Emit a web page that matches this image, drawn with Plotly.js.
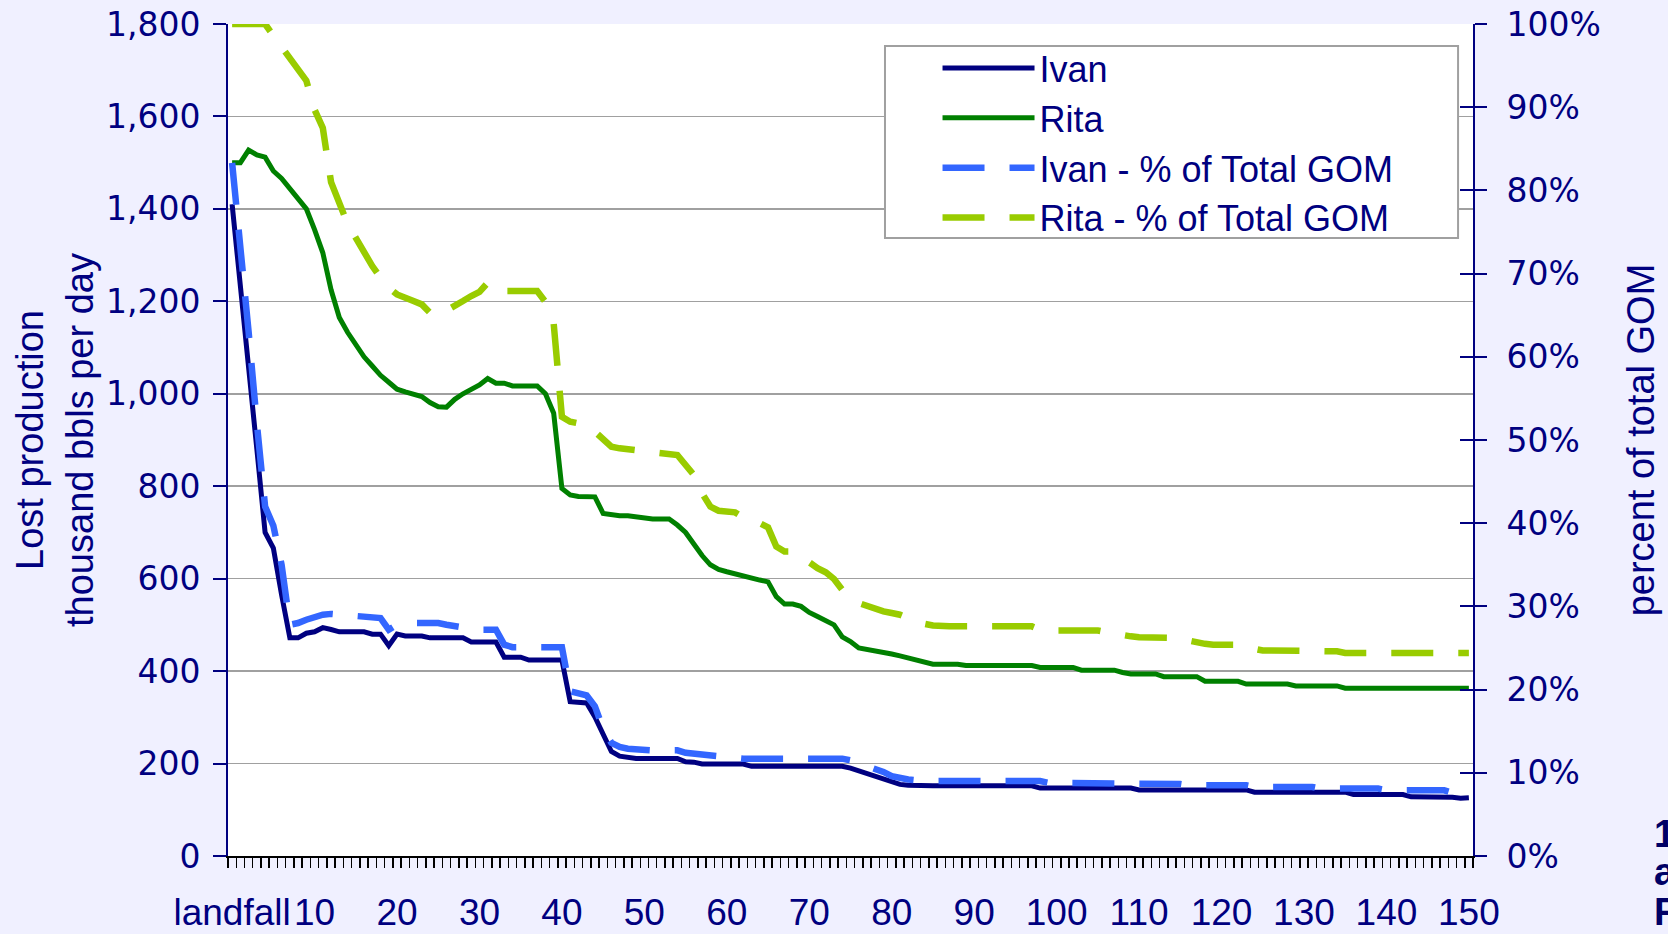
<!DOCTYPE html>
<html>
<head>
<meta charset="utf-8">
<script src="https://cdn.plot.ly/plotly-3.0.1.min.js"></script>
<style>
html, body { margin: 0; padding: 0; background: #F0F0FF; }
#chart { width: 1668px; height: 934px; }
</style>
</head>
<body>
<div id="chart"></div>
<script>
// Category positions: landfall (0) then days 1..150
const days = Array.from({length: 151}, (_, i) => i);
const tickPositions = [0, 10, 20, 30, 40, 50, 60, 70, 80, 90, 100, 110, 120, 130, 140, 150];
const tickLabels = ["landfall", "10", "20", "30", "40", "50", "60", "70", "80", "90", "100", "110", "120", "130", "140", "150"];

// Lost production, thousand bbls per day
const ivan = [
  1410, 1240, 1060, 880, 700, 666, 565, 472, 472, 482,
  485, 494, 490, 485, 485, 485, 485, 480, 480, 455,
  480, 476, 476, 476, 472, 472, 472, 472, 472, 463,
  463, 463, 463, 430, 430, 430, 424, 424, 424, 424,
  424, 334, 333, 331, 301, 262, 226, 216, 213, 211,
  211, 211, 211, 211, 211, 204, 203, 199, 199, 199,
  199, 199, 199, 194, 194, 194, 194, 194, 194, 194,
  194, 194, 194, 194, 194, 190, 184, 178, 172, 165,
  160, 155, 153, 152, 152, 152, 152, 152, 152, 152,
  152, 152, 152, 152, 152, 152, 152, 152, 147, 147,
  147, 147, 147, 147, 147, 147, 147, 147, 147, 147,
  143, 143, 143, 143, 143, 143, 143, 143, 143, 143,
  143, 143, 143, 143, 138, 138, 138, 138, 138, 138,
  138, 138, 138, 138, 138, 138, 133, 133, 133, 133,
  133, 133, 133, 128, 128, 128, 128, 128, 127, 125,
  126
];
const rita = [
  1500, 1500, 1527, 1517, 1512, 1482, 1466, 1443, 1420, 1400,
  1355, 1305, 1225, 1165, 1133, 1105, 1080, 1060, 1040, 1025,
  1010, 1004, 1000, 994, 981, 972, 971, 988, 1000, 1010,
  1019, 1033, 1023, 1023, 1017, 1017, 1017, 1017, 1000, 958,
  795, 781, 778, 777, 777, 741, 738, 736, 736, 733,
  731, 729, 729, 729, 716, 700, 675, 650, 630, 620,
  615, 610, 606, 602, 597, 593, 561, 545, 545, 540,
  527, 518, 508, 500, 474, 464, 450, 447, 445, 442,
  437, 433, 428, 424, 419, 415, 415, 415, 415, 412,
  412, 412, 412, 412, 412, 412, 412, 412, 408, 408,
  408, 408, 408, 402, 402, 402, 402, 402, 397, 394,
  394, 394, 394, 388, 388, 388, 388, 388, 378, 378,
  378, 378, 378, 372, 372, 372, 372, 372, 372, 368,
  368, 368, 368, 368, 368, 363, 363, 363, 363, 363,
  363, 363, 363, 363, 363, 363, 363, 363, 363, 363,
  363
];
// Percent of total GOM
const ivanPct = [
  83.3, 74, 63, 52, 42, 39.7, 35, 27.8, 28.0, 28.4,
  28.8, 29.0, 29.1, 29.0, 28.9, 28.8, 28.7, 28.6, 28.6, 27.2,
  27.8, 28.0, 28.0, 28.0, 28.0, 28.0, 27.8, 27.6, 27.4, 27.3,
  27.2, 27.2, 27.2, 25.4, 25.1, 25.1, 25.1, 25.1, 25.1, 25.1,
  25.1, 19.8, 19.5, 19.3, 18.0, 15.3, 13.6, 13.1, 12.9, 12.8,
  12.7, 12.7, 12.7, 12.7, 12.7, 12.4, 12.3, 12.1, 12.0, 11.9,
  11.9, 11.7, 11.7, 11.7, 11.7, 11.7, 11.7, 11.7, 11.7, 11.7,
  11.7, 11.7, 11.7, 11.7, 11.7, 11.5, 11.2, 10.9, 10.6, 10.1,
  9.6, 9.3, 9.2, 9.1, 9.0, 9.0, 9.0, 9.0, 9.0, 9.0,
  9.0, 9.0, 9.0, 9.0, 9.0, 9.0, 9.0, 9.0, 9.0, 8.8,
  8.8, 8.8, 8.8, 8.8, 8.8, 8.8, 8.8, 8.8, 8.8, 8.65,
  8.65, 8.65, 8.65, 8.65, 8.65, 8.65, 8.5, 8.5, 8.5, 8.5,
  8.5, 8.5, 8.5, 8.5, 8.3, 8.3, 8.3, 8.3, 8.3, 8.3,
  8.3, 8.3, 8.1, 8.1, 8.1, 8.1, 8.1, 8.1, 8.1, 8.1,
  7.9, 7.9, 7.9, 7.9, 7.9, 7.9, 7.9, 7.9, 7.6, 7.6,
  7.6
];
const ritaPct = [
  100, 100, 100, 100, 100, 98.6, 97.2, 95.9, 94.4, 93.2,
  89.7, 87.5, 81.0, 78.3, 76.0, 74.3, 72.5, 70.9, 69.5, 68.3,
  67.5, 67.0, 66.7, 66.3, 65.3, 65.0, 65.5, 66.0, 66.7, 67.3,
  67.8, 68.9, 68.0, 67.9, 67.9, 67.9, 67.9, 67.9, 66.6, 64.0,
  52.8, 52.2, 52.0, 51.8, 51.0, 50.2, 49.2, 49.0, 48.9, 48.8,
  48.6, 48.5, 48.4, 48.4, 48.2, 47.0, 45.8, 43.6, 42.0, 41.5,
  41.4, 41.3, 40.7, 40.4, 40.0, 39.5, 37.2, 36.6, 36.6, 36.0,
  35.2, 34.6, 34.1, 33.3, 32.0, 31.0, 30.4, 30.0, 29.7, 29.4,
  29.2, 29.0, 28.6, 28.2, 27.9, 27.7, 27.6, 27.6, 27.6, 27.6,
  27.6, 27.6, 27.6, 27.6, 27.6, 27.6, 27.6, 27.6, 27.2, 27.1,
  27.1, 27.1, 27.1, 27.1, 27.1, 27.1, 26.9, 26.7, 26.5, 26.4,
  26.3, 26.3, 26.2, 26.2, 26.2, 26.2, 25.9, 25.6, 25.5, 25.4,
  25.4, 25.4, 25.4, 25.1, 24.9, 24.7, 24.7, 24.7, 24.7, 24.7,
  24.7, 24.6, 24.6, 24.6, 24.6, 24.4, 24.4, 24.4, 24.4, 24.4,
  24.4, 24.4, 24.4, 24.4, 24.4, 24.4, 24.4, 24.4, 24.4, 24.4,
  24.4
];
const sideNote = ["1", "a", "R"];

const NAVY = '#000080';
const DASH = '42px,25px';

const traces = [
  {x: days, y: ivan, name: 'Ivan', type: 'scatter', mode: 'lines',
   line: {color: '#000080', width: 5}, xaxis: 'x', yaxis: 'y'},
  {x: days, y: rita, name: 'Rita', type: 'scatter', mode: 'lines',
   line: {color: '#008000', width: 5}, xaxis: 'x', yaxis: 'y'},
  {x: days, y: ivanPct, name: 'Ivan - % of Total GOM', type: 'scatter', mode: 'lines',
   line: {color: '#3366FF', width: 6.5, dash: DASH}, xaxis: 'x', yaxis: 'y2'},
  {x: days, y: ritaPct, name: 'Rita - % of Total GOM', type: 'scatter', mode: 'lines',
   line: {color: '#99CC00', width: 6.5, dash: DASH}, xaxis: 'x', yaxis: 'y3'}
];

const sideNoteY = [0.0264, -0.0187, -0.0679];

const layout = {
  width: 1668, height: 934,
  paper_bgcolor: '#F0F0FF',
  plot_bgcolor: '#FFFFFF',
  margin: {l: 228, r: 195, t: 24, b: 78, pad: 0},
  showlegend: true,
  legend: {
    x: 0.5699, y: 0.983, xanchor: 'left', yanchor: 'top',
    bgcolor: 'rgba(0,0,0,0)', borderwidth: 0,
    font: {family: 'Liberation Sans, Arial, sans-serif', size: 36, color: NAVY},
    itemwidth: 92, tracegroupgap: 0
  },
  xaxis: {
    range: [-0.5, 150.5],
    tickmode: 'array', tickvals: tickPositions, ticktext: tickLabels,
    tickangle: 0,
    ticks: 'outside', ticklen: 1, tickcolor: 'rgba(0,0,0,0)',
    ticklabelstandoff: 22,
    tickfont: {family: 'Liberation Sans, Arial, sans-serif', size: 37, color: NAVY},
    showline: true, linecolor: '#000000', linewidth: 2,
    showgrid: false, zeroline: false,
    minor: {ticks: 'outside', tickmode: 'linear', tick0: 0.5, dtick: 1,
            ticklen: 10, tickcolor: '#000000', tickwidth: 1.5, showgrid: false},
    fixedrange: true
  },
  yaxis: {
    range: [0, 1800], tickmode: 'linear', tick0: 0, dtick: 200,
    tickformat: ',d',
    ticks: 'outside', ticklen: 13, tickcolor: NAVY, tickwidth: 2,
    showline: true, linecolor: NAVY, linewidth: 2,
    showgrid: true, gridcolor: '#A0A0A0', gridwidth: 1.5,
    zeroline: false,
    tickfont: {family: 'DejaVu Sans, Verdana, sans-serif', size: 33, color: NAVY},
    ticklabelstandoff: 6,
    title: {text: 'Lost production<br>thousand bbls per day',
            font: {family: 'Liberation Sans, Arial, sans-serif', size: 38, color: NAVY},
            standoff: 1},
    automargin: false, fixedrange: true
  },
  yaxis2: {
    overlaying: 'y', side: 'right', anchor: 'x',
    range: [0, 100], tickmode: 'linear', tick0: 0, dtick: 10,
    ticksuffix: '%',
    ticks: 'outside', ticklen: 12, tickcolor: NAVY, tickwidth: 2,
    showline: true, linecolor: NAVY, linewidth: 2,
    showgrid: false, zeroline: false,
    tickfont: {family: 'DejaVu Sans, Verdana, sans-serif', size: 33, color: NAVY},
    ticklabelstandoff: 13,
    title: {text: 'percent of total GOM',
            font: {family: 'Liberation Sans, Arial, sans-serif', size: 38, color: NAVY},
            standoff: 27},
    automargin: false, fixedrange: true
  },
  yaxis3: {
    overlaying: 'y', side: 'right', anchor: 'x',
    range: [0, 100], tickmode: 'linear', tick0: 0, dtick: 10,
    ticks: 'inside', ticklen: 13, tickcolor: NAVY, tickwidth: 2,
    showline: false, showgrid: false, zeroline: false,
    showticklabels: false, automargin: false, fixedrange: true
  },
  shapes: [{
    type: 'rect', xref: 'paper', yref: 'paper', layer: 'above',
    x0: 0.5277, x1: 0.9880, y0: 0.7428, y1: 0.9736,
    line: {color: '#A0A0A0', width: 2}, fillcolor: '#FFFFFF'
  }],
  annotations: sideNote.map((t, i) => ({
    text: '<b>' + t + '</b>', xref: 'paper', yref: 'paper',
    x: 1.1438, y: sideNoteY[i], xanchor: 'left', yanchor: 'middle',
    showarrow: false,
    font: {family: 'Liberation Sans, Arial, sans-serif', size: 38, color: '#000066'}
  }))
};

Plotly.newPlot('chart', traces, layout, {displayModeBar: false, staticPlot: true});
</script>
</body>
</html>
